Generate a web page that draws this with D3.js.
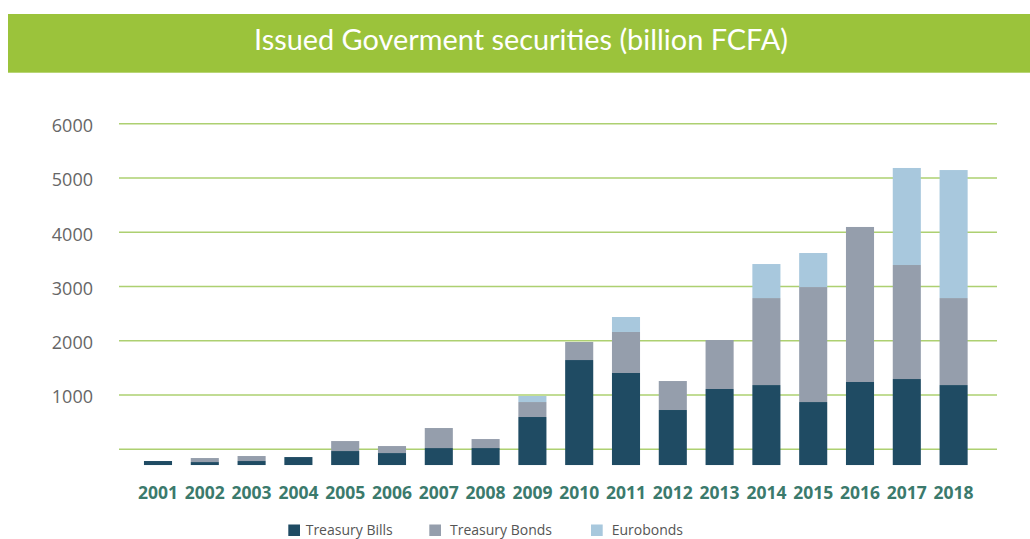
<!DOCTYPE html>
<html>
<head>
<meta charset="utf-8">
<script src="https://cdn.jsdelivr.net/npm/d3@7"></script>
<style>
    body { margin: 0; background: #fff; }
    svg { display: block; }
</style>
</head>
<body>
<div id="bar-chart"></div>
<script>
// chart values (segment sizes in billion FCFA)
var years = ['2001','2002','2003','2004','2005','2006','2007','2008','2009',
             '2010','2011','2012','2013','2014','2015','2016','2017','2018'];
var treasuryBills  = [74, 55, 74, 147, 258, 221, 313, 313, 885, 1935, 1696, 1014, 1401, 1474, 1161, 1530, 1585, 1474];
var treasuryBonds  = [0, 74, 92, 0, 184, 129, 369, 166, 276, 332, 756, 534, 903, 1603, 2119, 2857, 2101, 1603];
var eurobonds      = [0, 0, 0, 0, 0, 0, 0, 0, 111, 0, 276, 0, 0, 627, 627, 0, 1788, 2359];
var seriesNames    = ['Treasury Bills', 'Treasury Bonds', 'Eurobonds'];
var yTicks         = [0, 1000, 2000, 3000, 4000, 5000, 6000];
var barBase        = -290; // bars in the original start a bit below the zero line

class TrendComponent {
    constructor(){
        this.width = 1030;
        this.height = 539;
        this.colors = ['#1f4b63', '#959eac', '#a8c8dd'];
        this.init();
    }
    init(){
        this.svg = d3.select('#bar-chart').append('svg')
            .attr('width', this.width)
            .attr('height', this.height);

        this.x = d3.scaleBand().domain(years).range([134.6, 977])
            .paddingInner(0.4).paddingOuter(0.2);
        this.y = d3.scaleLinear().domain([0, 6000]).range([449.3, 123.7]);

        this.drawTitle();
        this.drawAxis();
        this.draw();
        this.drawLegend();
    }
    drawTitle(){
        this.svg.append('rect')
            .attr('x', 8).attr('y', 14)
            .attr('width', this.width - 8).attr('height', 58.7)
            .style('fill', '#9bc33b');

        this.svg.append('text')
            .attr('x', 254).attr('y', 50)
            .attr('textLength', 534)
            .attr('lengthAdjust', 'spacingAndGlyphs')
            .style('font-family', 'Lato, "Open Sans", sans-serif')
            .style('font-size', '28px')
            .style('fill', '#fff')
            .text('Issued Goverment securities (billion FCFA)');
    }
    drawAxis(){
        var grid = this.svg.append('g').attr('class', 'grid');
        grid.selectAll('line').data(yTicks).enter().append('line')
            .attr('x1', 119).attr('x2', 997)
            .attr('y1', (d) => this.y(d))
            .attr('y2', (d) => this.y(d))
            .style('stroke', '#add071')
            .style('stroke-width', 1.4);

        // no label on the zero line
        grid.selectAll('text').data(yTicks.filter((d) => d > 0)).enter().append('text')
            .attr('x', 93)
            .attr('y', (d) => this.y(d) + 2)
            .attr('dy', '0.35em')
            .attr('text-anchor', 'end')
            .style('font-family', '"Open Sans", sans-serif')
            .style('font-size', '18px')
            .style('fill', '#666')
            .text((d) => d);

        this.svg.append('g').selectAll('text').data(years).enter().append('text')
            .attr('x', (d) => this.x(d) + this.x.bandwidth() / 2)
            .attr('y', 498.5)
            .attr('text-anchor', 'middle')
            .style('font-family', '"Open Sans", sans-serif')
            .style('font-weight', 'bold')
            .style('font-size', '17.5px')
            .style('fill', '#3b7a6c')
            .text((d) => d);
    }
    draw(){
        var rows = years.map((yr, i) => ({
            year: yr,
            'Treasury Bills': treasuryBills[i],
            'Treasury Bonds': treasuryBonds[i],
            'Eurobonds': eurobonds[i]
        }));
        var stacked = d3.stack().keys(seriesNames)(rows);

        var layer = this.svg.append('g').selectAll('g').data(stacked).enter().append('g')
            .style('fill', (d, i) => this.colors[i]);

        layer.selectAll('.bar').data((d) => d.filter((v) => v[1] > v[0])).enter().append('rect')
            .attr('class', 'bar')
            .attr('x', (d) => this.x(d.data.year))
            .attr('width', this.x.bandwidth())
            .attr('y', (d) => this.y(d[1] + barBase))
            .attr('height', (d) => this.y(d[0] + barBase) - this.y(d[1] + barBase));
    }
    drawLegend(){
        var legendX = [288.3, 429.3, 591];
        var legend = this.svg.append('g').selectAll('g').data(seriesNames).enter().append('g')
            .attr('transform', (d, i) => 'translate(' + legendX[i] + ',524.5)');

        legend.append('rect')
            .attr('width', 11.7).attr('height', 11.5)
            .style('fill', (d, i) => this.colors[i]);

        legend.append('text')
            .attr('x', (d, i) => i === 0 ? 17.4 : 20.7)
            .attr('y', 5.5)
            .attr('dy', '0.35em')
            .style('font-family', '"Open Sans", sans-serif')
            .style('font-size', '14px')
            .style('fill', '#555')
            .text((d) => d);
    }
}
new TrendComponent();
</script>
</body>
</html>
